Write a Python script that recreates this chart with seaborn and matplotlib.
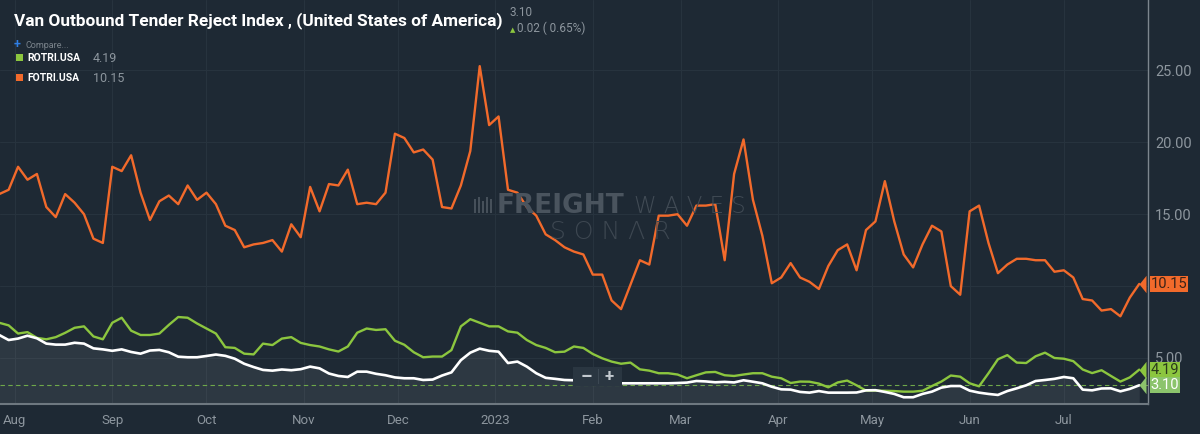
import pandas as pd
import seaborn as sns
import matplotlib.pyplot as plt
import matplotlib.transforms as mtransforms
from matplotlib.patches import Rectangle
from matplotlib.path import Path

# --- data (one point every 3 days) ---
dates = pd.date_range("2022-07-27", periods=122, freq="3D")

votri = [6.6, 6.25, 6.35, 6.55, 6.37, 6.0, 5.93, 5.93, 6.06, 6.0,
         5.67, 5.6, 5.5, 5.6, 5.42, 5.3, 5.52, 5.56, 5.4, 5.09,
         5.05, 5.05, 5.14, 5.24, 5.15, 4.95, 4.6, 4.37, 4.17, 4.12,
         4.2, 4.15, 4.22, 4.4, 4.28, 3.92, 3.75, 3.68, 4.05, 4.05,
         3.9, 3.8, 3.65, 3.59, 3.59, 3.47, 3.5, 3.78, 4.0, 4.85,
         5.37, 5.65, 5.5, 5.44, 4.65, 4.75, 4.4, 3.94, 3.62, 3.55,
         3.47, 3.45, 3.4, 3.35, 3.3, 3.28, 3.24, 3.24, 3.24, 3.24,
         3.24, 3.24, 3.26, 3.29, 3.4, 3.37, 3.31, 3.34, 3.3, 3.45,
         3.35, 3.24, 3.0, 2.82, 2.8, 2.64, 2.59, 2.7, 2.59, 2.59,
         2.59, 2.6, 2.75, 2.76, 2.64, 2.5, 2.27, 2.27, 2.5, 2.66,
         2.94, 3.05, 3.05, 2.73, 2.59, 2.5, 2.43, 2.7, 2.89, 3.1,
         3.4, 3.47, 3.55, 3.68, 3.59, 2.8, 2.75, 2.88, 2.89, 2.68,
         2.85, 3.10]

rotri = [7.45, 7.27, 6.7, 6.8, 6.4, 6.3, 6.45, 6.75, 7.1, 7.2,
         6.5, 6.3, 7.45, 7.8, 6.9, 6.6, 6.6, 6.7, 7.3, 7.85,
         7.8, 7.4, 7.05, 6.7, 5.75, 5.7, 5.3, 5.25, 6.0, 5.9,
         6.35, 6.45, 6.05, 5.9, 5.8, 5.6, 5.45, 5.8, 6.76, 7.05,
         6.95, 7.0, 6.2, 5.92, 5.4, 5.05, 5.1, 5.1, 5.55, 7.2,
         7.7, 7.45, 7.2, 7.2, 6.85, 6.76, 6.25, 5.9, 5.7, 5.4,
         5.44, 5.8, 5.7, 5.28, 4.98, 4.75, 4.6, 4.68, 4.21, 4.12,
         3.94, 3.94, 3.85, 3.59, 3.8, 4.0, 4.03, 3.8, 3.75, 3.85,
         3.94, 3.94, 3.7, 3.59, 3.26, 3.36, 3.35, 3.22, 2.96, 3.3,
         3.43, 3.1, 2.73, 2.73, 2.72, 2.7, 2.66, 2.66, 2.72, 3.05,
         3.36, 3.78, 3.7, 3.24, 3.03, 3.94, 4.91, 5.2, 4.68, 4.65,
         5.12, 5.37, 5.0, 4.95, 4.78, 4.2, 3.95, 4.15, 3.75, 3.36,
         3.65, 4.19]

fotri = [16.4, 16.7, 18.3, 17.4, 17.8, 15.5, 14.8, 16.4, 15.8, 15.0,
         13.3, 13.0, 18.3, 18.0, 19.1, 16.5, 14.6, 15.9, 16.3, 15.7,
         17.0, 16.0, 16.5, 15.7, 14.2, 13.9, 12.7, 12.9, 13.0, 13.2,
         12.4, 14.3, 13.4, 16.9, 15.2, 17.1, 17.0, 18.1, 15.7, 15.8,
         15.7, 16.5, 20.6, 20.3, 19.3, 19.5, 18.8, 15.5, 15.4, 17.0,
         19.4, 25.3, 21.2, 21.8, 16.7, 16.5, 15.5, 14.9, 13.6, 13.2,
         12.7, 12.4, 12.2, 10.8, 10.8, 9.0, 8.4, 10.1, 11.8, 11.5,
         14.9, 14.9, 15.0, 14.2, 15.6, 15.6, 15.7, 11.8, 17.8, 20.2,
         16.0, 13.5, 10.2, 10.6, 11.6, 10.6, 10.3, 9.8, 11.4, 12.5,
         12.9, 11.1, 13.9, 14.5, 17.3, 14.5, 12.2, 11.3, 12.9, 14.2,
         13.8, 10.0, 9.4, 15.2, 15.6, 13.0, 10.9, 11.5, 11.9, 11.9,
         11.8, 11.8, 11.0, 11.1, 10.6, 9.1, 9.0, 8.3, 8.4, 7.9,
         9.2, 10.15]

month_ticks = pd.date_range("2022-08-01", "2023-07-01", freq="MS")
month_labels = ["Aug", "Sep", "Oct", "Nov", "Dec", "2023",
                "Feb", "Mar", "Apr", "May", "Jun", "Jul"]
y_ticks = [5, 10, 15, 20, 25]
# 10.00 sits under the FOTRI tag in the reference, so its label is not shown
y_labels = ["5.00", "", "15.00", "20.00", "25.00"]

# --- colours ---
BG = "#1e2934"
GRID = "#27333e"
TXT = "#8d969e"
ORANGE = "#f26a2b"
GREEN = "#8cc63f"
PALE_GREEN = "#8cc46c"

sns.set_style("dark")
plt.rcParams["font.family"] = ["Roboto", "DejaVu Sans"]

W, H = 1200, 434
fig = plt.figure(figsize=(W / 100, H / 100), dpi=100, facecolor=BG)
ax = fig.add_axes([0, 30 / H, 1148 / W, 404 / H])
ax.set_facecolor(BG)


def px(x, y):
    return x / W, 1 - y / H


df = pd.DataFrame({"date": dates, "VOTRI": votri, "ROTRI": rotri, "FOTRI": fotri})

ax.fill_between(df["date"], df["VOTRI"], 0, color="#ffffff", alpha=0.07, lw=0, zorder=1)
sns.lineplot(data=df, x="date", y="FOTRI", color=ORANGE, lw=1.7, ax=ax, zorder=3)
sns.lineplot(data=df, x="date", y="ROTRI", color=GREEN, lw=1.7, ax=ax, zorder=3)
sns.lineplot(data=df, x="date", y="VOTRI", color="white", lw=1.9, ax=ax, zorder=4)
ax.axhline(votri[-1], color="#6fa84a", lw=0.8, ls=(0, (4, 3)), zorder=2)

ax.set_xlim(pd.Timestamp("2022-07-27 06:00"), pd.Timestamp("2023-07-27 19:00"))
ax.set_ylim(1.8, 29.9)
ax.set_xlabel("")
ax.set_ylabel("")

ax.set_xticks(month_ticks, month_labels)
ax.set_yticks(y_ticks, y_labels)
ax.yaxis.tick_right()
ax.tick_params(axis="x", colors=TXT, length=4, width=1, pad=3, labelsize=9.5)
ax.tick_params(axis="y", colors=TXT, length=0, pad=5, labelsize=10.5)
ax.grid(True, color=GRID, lw=0.8)
ax.set_axisbelow(True)
for side in ["top", "left"]:
    ax.spines[side].set_visible(False)
ax.spines["right"].set_color("#7d868e")
ax.spines["right"].set_linewidth(1)
ax.spines["bottom"].set_color("#6e7880")
ax.spines["bottom"].set_linewidth(1.5)

# --- last value tags on the right axis ---
blend = mtransforms.blended_transform_factory(ax.transAxes, ax.transData)
tip = Path([(-0.8, 0), (0, 1), (0, -1), (-0.8, 0)])
tags = [(fotri[-1], ORANGE, "#3a2318"), (rotri[-1], GREEN, "#2a3a1a"),
        (votri[-1], PALE_GREEN, "white")]
for val, fc, tc in tags:
    ax.annotate(f"{val:.2f}", xy=(1.0, val), xycoords=blend, xytext=(2, 0),
                textcoords="offset points", ha="left", va="center",
                fontsize=10.5, color=tc, annotation_clip=False, zorder=6,
                bbox=dict(boxstyle="square,pad=0.06", fc=fc, ec="none"))
    ax.plot([0.9985], [val], transform=blend, marker=tip, ms=12.5, color=fc,
            mec="none", clip_on=False, zorder=6)

# --- zoom control box ---
fig.add_artist(Rectangle(px(573, 386), 49 / W, 19 / H, transform=fig.transFigure,
                         fc="#2a3641", ec="none", zorder=5))
fig.add_artist(Rectangle(px(598, 384), 1 / W, 15 / H, transform=fig.transFigure,
                         fc="#3c4853", ec="none", zorder=6))
fig.text(*px(586, 377), "\u2013", color="#c3c9cf", fontsize=13, fontweight="bold",
         ha="center", va="center", zorder=7)
fig.text(*px(609, 377), "+", color="#c3c9cf", fontsize=12, fontweight="bold",
         ha="center", va="center", zorder=7)

# --- watermark ---
for bx, bh in [(474, 14), (478, 16), (482, 12), (486, 16), (490, 14)]:
    fig.add_artist(Rectangle(px(bx, 213), 2 / W, bh / H, transform=fig.transFigure,
                             fc="#46505a", ec="none", zorder=0.5))
fig.text(*px(497, 213), "FREIGHT", color="#4a545e", fontsize=19, fontweight="bold",
         family="DejaVu Sans", va="baseline")
fig.text(*px(634, 213), "W A V E S", color="#414b55", fontsize=16.5, fontweight="light",
         family="DejaVu Sans", va="baseline")
fig.text(*px(550, 239), "S O N \u039b R", color="#3d4751", fontsize=18, fontweight="light",
         family="DejaVu Sans", va="baseline")

# --- header ---
fig.text(*px(14, 25), "Van Outbound Tender Reject Index , (United States of America)",
         color="white", fontsize=12.4, fontweight="bold", va="baseline")
fig.text(*px(509, 16), f"{votri[-1]:.2f}", color=TXT, fontsize=8.5, va="baseline")
fig.text(*px(510, 32), "\u25b2", color=GREEN, fontsize=5, va="baseline")
fig.text(*px(517, 32), "0.02 ( 0.65%)", color=TXT, fontsize=8.5, va="baseline")

fig.text(*px(14, 48), "+", color="#2f7fe6", fontsize=9, fontweight="bold", va="baseline")
fig.text(*px(26, 48), "Compare...", color="#7b848c", fontsize=6.5, va="baseline")

legend_rows = [("ROTRI.USA", rotri[-1], GREEN, 61), ("FOTRI.USA", fotri[-1], ORANGE, 81)]
for name, val, col, base in legend_rows:
    fig.add_artist(Rectangle(px(15.5, base), 7.5 / W, 7.5 / H, transform=fig.transFigure,
                             fc=col, ec="none"))
    fig.text(*px(27, base), name, color="white", fontsize=7.5, fontweight="bold",
             va="baseline")
    fig.text(*px(93, base + 1), f"{val:.2f}", color=TXT, fontsize=9, va="baseline")

fig.savefig("out.png", dpi=100, facecolor=BG)
